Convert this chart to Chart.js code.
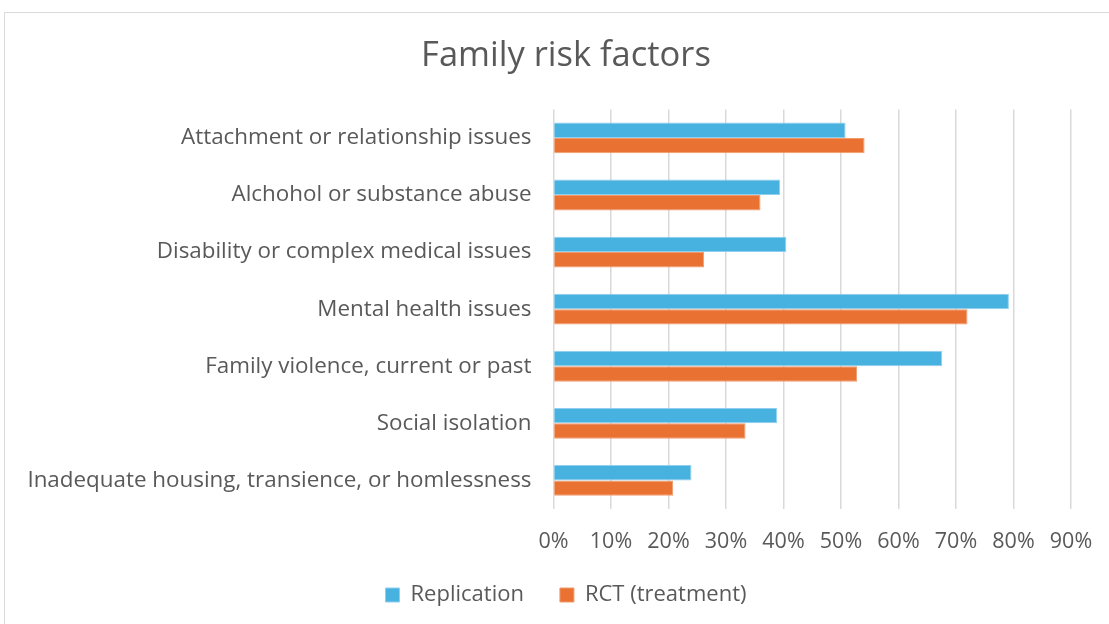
<!DOCTYPE html>
<html>
<head>
<meta charset="utf-8">
<script src="https://cdn.jsdelivr.net/npm/chart.js@4"></script>
<style>
  html, body { margin: 0; padding: 0; background: #fff; overflow: hidden; }
  .frame { position: absolute; left: 4px; top: 12px; width: 1120px; height: 640px; border: 1px solid #d9d9d9; }
  .wrap { position: absolute; left: 0; top: 0; width: 1132px; height: 624px; }
</style>
</head>
<body>
<div class="frame"></div>
<div class="wrap"><canvas id="chart"></canvas></div>
<script>
// Data
const categories = [
    'Attachment or relationship issues',
    'Alchohol or substance abuse',
    'Disability or complex medical issues',
    'Mental health issues',
    'Family violence, current or past',
    'Social isolation',
    'Inadequate housing, transience, or homlessness'
];
const replication = [50.8, 39.4, 40.5, 79.2, 67.6, 38.9, 24.0];
const rctTreatment = [54.1, 36.0, 26.2, 72.0, 52.8, 33.4, 20.8];
const xTicks = [0, 10, 20, 30, 40, 50, 60, 70, 80, 90];

const textColor = '#595959';
const fontFamily = "'Open Sans', 'Noto Sans', sans-serif";

// setup
const data = {
    labels: categories,
    datasets: [{
        label: 'Replication',
        data: replication,
        backgroundColor: '#47B1E0',
        borderColor: '#8FD0EE',
        borderWidth: 1,
        categoryPercentage: 0.54,
        barPercentage: 1
    }, {
        label: 'RCT (treatment)',
        data: rctTreatment,
        backgroundColor: '#E97132',
        borderColor: '#F29A6C',
        borderWidth: 1,
        categoryPercentage: 0.54,
        barPercentage: 1
    }]
};

// config
const config = {
    type: 'bar',
    data,
    options: {
        indexAxis: 'y',
        responsive: true,
        maintainAspectRatio: false,
        animation: false,
        layout: { padding: { left: 0, right: 0, top: 0, bottom: 8 } },
        scales: {
            x: {
                min: 0,
                max: 90,
                afterBuildTicks: (scale) => { scale.ticks = xTicks.map(v => ({ value: v })); },
                afterFit: (scale) => { scale.height = 39; },
                border: { display: false },
                grid: { color: '#D9D9D9', lineWidth: 1.5, drawTicks: false },
                ticks: {
                    color: textColor,
                    padding: 20,
                    maxRotation: 0,
                    font: { family: fontFamily, size: 21.5 },
                    callback: (v) => v + '%'
                }
            },
            y: {
                afterFit: (scale) => { scale.width = 553.5; },
                border: { display: false },
                grid: { display: false, drawTicks: false },
                ticks: {
                    color: textColor,
                    padding: 22,
                    font: { family: fontFamily, size: 22.4 }
                }
            },
            // empty spacer on the right so the plot ends at 90% where the original does
            spacer: {
                type: 'category',
                position: 'right',
                afterFit: (scale) => { scale.width = 61; },
                border: { display: false },
                grid: { display: false, drawTicks: false },
                ticks: { display: false }
            }
        },
        plugins: {
            title: {
                display: true,
                text: 'Family risk factors',
                color: textColor,
                font: { family: fontFamily, size: 34.5, weight: 'normal' },
                padding: { top: 35, bottom: 33 }
            },
            legend: {
                position: 'bottom',
                labels: {
                    color: textColor,
                    boxWidth: 14,
                    boxHeight: 14,
                    padding: 36,
                    font: { family: fontFamily, size: 22 }
                }
            },
            tooltip: { enabled: false }
        }
    }
};

// render init block
const myChart = new Chart(document.getElementById('chart'), config);
</script>
</body>
</html>
